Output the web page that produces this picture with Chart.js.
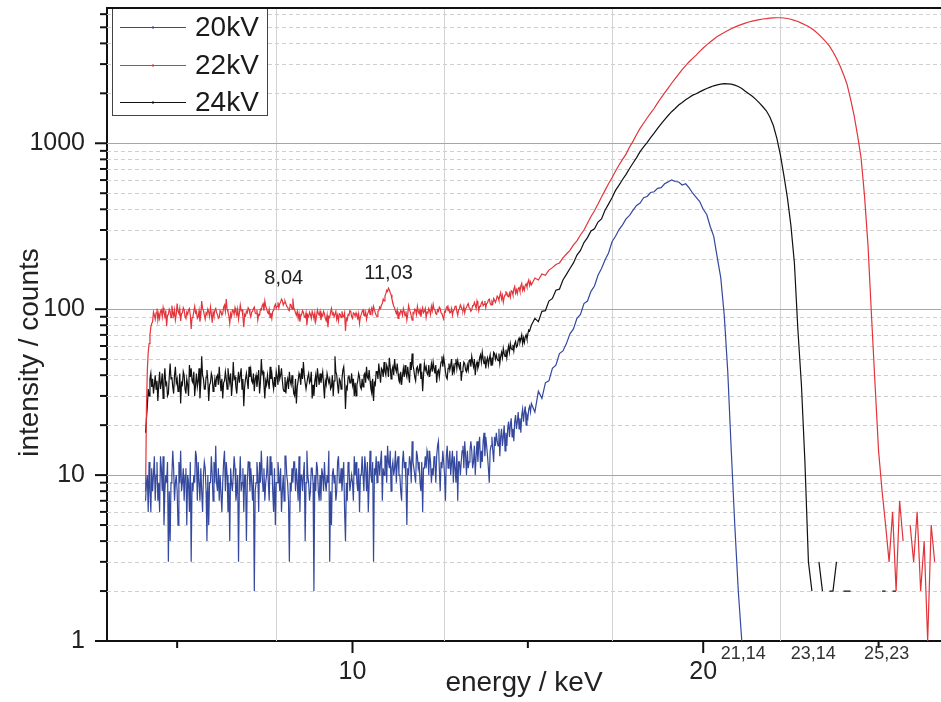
<!DOCTYPE html>
<html>
<head>
<meta charset="utf-8">
<script src="https://cdn.jsdelivr.net/npm/chart.js@4.4.1/dist/chart.umd.min.js"></script>
<style>
html,body{margin:0;padding:0;background:#fff;overflow:hidden}
#c{display:block}
</style>
</head>
<body>
<canvas id="c" width="941" height="702"></canvas>
<script>
// ---- channel grid (keV): fine channels 4.100-15.075 (0.025 keV), then coarse 15.1+ (0.1 keV) ----
const FINE_START = 4.1, FINE_STEP = 0.025, FINE_COUNT = 440;
const COARSE_START = 15.1, COARSE_STEP = 0.1;

const seriesLabels = ['20kV', '22kV', '24kV'];

// 20kV (blue) counts
const counts20kV = [
  7,9, 10,6, 12,8, 6,11, 8,10, 13,7, 10,12, 7,9, 6,13, 11,8, 13,5, 8,10, 9,12, 3,8, 4,9, 10,14, 11,7, 9,10, 8,5, 12,9,            // 4.1-
  14,8, 9,11, 7,10, 11,5, 10,9, 6,12, 3,9, 8,10, 9,14, 13,7, 12,9, 7,11, 8,6, 10,12, 11,8, 4,10, 5,9, 9,13, 10,7, 12,9,           // 5.1-
  15,9, 8,11, 7,10, 10,6, 9,12, 14,8, 12,10, 6,9, 4,11, 9,8, 10,13, 11,7, 8,10, 3,9, 13,8, 9,11, 6,10, 10,4, 9,12, 12,8,          // 6.1-
  11,9, 7,10, 2,8, 9,12, 10,6, 12,9, 14,10, 8,11, 7,9, 10,13, 9,7, 13,10, 12,8, 6,11, 5,9, 9,12, 10,8, 11,6, 8,10, 7,13,          // 7.1-
  13,10, 9,7, 3,9, 8,11, 9,12, 12,8, 11,9, 7,13, 6,10, 10,8, 10,12, 4,9, 14,10, 9,7, 8,11, 11,9, 2,10, 8,12, 11,8, 7,10,          // 8.1-
  7,11, 10,8, 12,9, 8,10, 9,14, 3,8, 5,10, 11,9, 10,7, 8,12, 13,9, 9,11, 8,10, 12,6, 4,9, 7,12, 11,8, 9,10, 9,7, 13,10,           // 9.1-
  12,9, 8,11, 6,10, 10,13, 10,8, 13,11, 8,12, 6,9, 14,10, 9,12, 3,11, 10,13, 9,12, 12,10, 12,14, 7,11, 10,13, 13,9, 15,12, 11,14, // 10.1-
  8,11, 12,10, 11,14, 9,12, 13,10, 10,8, 7,12, 14,11, 12,9, 5,11, 10,13, 12,9, 16,12, 11,10, 9,14, 13,11, 12,9, 8,12, 6,11, 11,13, // 11.1-
  11,14, 13,10, 14,12, 9,11, 10,13, 12,9, 13,15, 16,11, 8,12, 11,14, 12,10, 7,13, 15,11, 12,14, 10,12, 14,9, 13,11, 9,14, 7,12, 12,10, // 12.1-
  12,14, 15,11, 16,13, 10,14, 11,12, 14,16, 14,11, 12,15, 10,13, 16,12, 15,17, 11,14, 12,16, 18,13, 17,15, 13,11, 9,14, 15,17, 14,12, 17,15, // 13.1-
  18,16, 15,19, 13,17, 19,15, 17,20, 14,18, 15,19, 21,17, 20,22, 17,19, 16,21, 23,19, 21,24, 19,22, 18,23, 25,21, 24,26, 20,23, 22,25, 26,24, // 14.1-15.075
  27,24,32,29,36,37,44,46,54,56,           // 15.1-16.0
  62,71,76,88,93,108,112,128,138,160,      // 16.1-17.0
  176,198,218,255,275,302,322,350,368,395, // 17.1-18.0
  422,436,470,478,505,510,535,540,570,585, // 18.1-19.0
  602,588,584,560,570,538,500,472,445,400, // 19.1-20.0
  372,315,275,205,155,92,42,14,5,2,        // 20.1-21.0
  1,0                                      // 21.1-21.2
];

// 22kV (red) counts
const counts22kV = [
  8,25, 43,55, 62,70, 78,82, 84,96, 92,87, 95,101, 86,94, 88,97, 99,90, 102,95, 90,98, 79,92, 93,100, 97,89, 105,96, 91,99, 86,93, 108,97, 94,101,      // 4.1-
  85,94, 95,102, 99,90, 88,96, 93,99, 101,92, 76,89, 90,97, 104,95, 97,88, 90,98, 84,93, 112,101, 98,92, 87,95, 93,100, 96,90, 103,94, 83,96, 91,99,     // 5.1-
  101,95, 93,88, 89,98, 97,92, 94,103, 106,97, 115,100, 96,91, 82,94, 90,99, 98,93, 102,96, 92,100, 87,95, 106,98, 99,90, 78,93, 91,97, 95,102, 100,94, // 6.1-
  90,96, 97,101, 103,95, 94,99, 86,93, 92,100, 99,105, 108,98, 112,104, 101,96, 94,100, 89,95, 88,97, 98,104, 107,101, 104,110, 102,108, 110,115, 113,106, 109,112, // 7.1-
  108,104, 103,99, 98,107, 106,100, 116,102, 99,95, 92,97, 88,94, 84,91, 93,98, 96,90, 89,95, 80,92, 90,96, 93,88, 97,93, 88,95, 84,91, 99,94, 92,97,   // 8.1-
  86,93, 91,97, 94,88, 85,92, 78,90, 89,96, 101,93, 95,90, 90,97, 87,92, 85,94, 93,89, 97,91, 90,95, 74,88, 86,93, 92,98, 97,90, 88,95, 94,91,          // 9.1-
  95,91, 88,94, 82,90, 93,97, 99,92, 91,96, 87,93, 96,100, 93,98, 102,95, 104,99, 95,92, 90,97, 98,103, 101,106, 108,115, 112,120, 124,130, 128,134, 131,126, // 10.1-
  122,115, 110,104, 102,97, 94,99, 88,95, 93,98, 97,92, 101,96, 91,97, 86,93, 105,99, 96,91, 86,95, 94,100, 99,93, 104,97, 94,99, 90,96, 102,95, 97,101, // 11.1-
  89,96, 95,101, 98,93, 104,98, 107,100, 99,94, 93,99, 97,103, 101,95, 94,90, 87,97, 96,102, 104,98, 100,95, 96,101, 92,98, 99,104, 105,97, 92,99, 101,106, // 12.1-
  103,99, 98,104, 95,101, 102,106, 108,102, 101,97, 99,105, 105,110, 106,101, 112,107, 98,104, 104,109, 111,105, 107,112, 102,108, 109,114, 115,109, 106,111, 108,116, 113,110, // 13.1-
  114,120, 118,113, 121,126, 115,121, 110,118, 122,127, 126,120, 119,125, 118,129, 128,122, 132,137, 125,131, 124,133, 135,128, 138,143, 130,136, 130,139, 142,136, 145,150, 139,146, // 14.1-15.075
  140,154,150,163,160,172,178,186,190,204,           // 15.1-16.0
  215,226,244,258,280,300,330,362,392,430,           // 16.1-17.0
  475,520,570,620,680,740,800,860,950,1030,          // 17.1-18.0
  1130,1230,1320,1420,1520,1620,1750,1880,2010,2150, // 18.1-19.0
  2300,2450,2610,2780,2940,3100,3250,3400,3580,3750, // 19.1-20.0
  3920,4080,4240,4400,4530,4650,4780,4900,5010,5120, // 20.1-21.0
  5210,5300,5380,5450,5510,5560,5610,5640,5680,5700, // 21.1-22.0
  5710,5710,5690,5650,5590,5500,5420,5300,5180,5050, // 22.1-23.0
  4900,4720,4520,4300,4080,3850,3560,3250,2930,2600, // 23.1-24.0
  2270,1850,1480,1120,820,480,240,90,35,14,          // 24.1-25.0
  8,5,3,6,2,7,4,0,5,3,                               // 25.1-26.0
  6,2,4,1,5,3,0                                      // 26.1-26.7
];

// 24kV (black) counts
const counts24kV = [
  18,22, 26,33, 30,38, 41,34, 38,31, 35,40, 33,37, 28,35, 42,33, 36,41, 29,37, 44,35, 36,30, 31,39, 47,38, 39,34, 31,40, 45,36, 38,32, 33,41, // 4.1-
  27,36, 35,42, 40,33, 31,38, 35,30, 46,39, 44,37, 36,42, 30,35, 41,34, 37,44, 29,36, 52,40, 38,33, 33,39, 43,37, 28,35, 36,41, 39,32, 34,38, // 5.1-
  34,39, 40,35, 45,37, 32,38, 29,36, 37,42, 38,33, 44,39, 36,41, 30,35, 48,38, 39,34, 31,37, 42,36, 40,44, 33,38, 26,34, 38,41, 37,33, 45,39, // 6.1-
  43,37, 36,41, 32,38, 40,34, 38,43, 31,36, 50,41, 42,35, 29,37, 35,40, 36,33, 45,38, 41,36, 33,39, 34,42, 39,35, 46,38, 40,44, 37,33, 32,39, // 7.1-
  31,36, 38,33, 42,37, 35,40, 35,31, 30,38, 27,34, 37,41, 39,35, 44,38, 48,40, 36,33, 33,39, 41,36, 37,42, 29,35, 30,37, 40,34, 44,39, 35,41, // 8.1-
  36,39, 42,35, 29,37, 35,41, 41,36, 38,33, 34,40, 30,37, 52,42, 40,35, 31,38, 37,33, 38,43, 45,37, 25,34, 33,39, 40,36, 36,41, 35,38, 30,36, // 9.1-
  30,35, 37,41, 39,34, 33,38, 34,40, 41,36, 45,39, 38,43, 37,33, 31,38, 28,36, 35,42, 42,38, 47,41, 36,44, 43,39, 48,42, 40,46, 44,39, 51,45, // 10.1-
  38,43, 45,40, 50,44, 42,47, 41,37, 36,42, 35,40, 44,39, 46,41, 39,45, 40,36, 48,43, 54,46, 43,39, 37,44, 45,41, 43,47, 38,42, 32,40, 47,43, // 11.1-
  45,41, 40,46, 39,43, 47,42, 48,44, 41,46, 36,42, 43,39, 44,48, 52,45, 51,47, 42,39, 38,44, 47,43, 46,50, 40,45, 42,47, 50,44, 49,46, 44,48, // 12.1-
  37,42, 44,48, 47,43, 42,46, 43,49, 50,45, 52,48, 45,50, 40,46, 48,44, 46,51, 53,48, 55,50, 47,52, 44,49, 51,46, 50,53, 46,51, 48,55, 54,50, // 13.1-
  53,50, 49,54, 47,52, 55,51, 58,54, 52,57, 51,56, 60,55, 62,58, 57,61, 56,62, 64,59, 60,65, 67,63, 66,70, 62,67, 63,68, 70,66, 71,75, 74,77, // 14.1-15.075
  80,88,84,97,98,112,116,130,132,150,                // 15.1-16.0
  162,176,190,212,226,252,270,296,305,335,           // 16.1-17.0
  350,395,430,470,520,560,605,650,705,760,           // 17.1-18.0
  820,890,950,1010,1080,1150,1230,1310,1390,1470,    // 18.1-19.0
  1550,1620,1700,1760,1830,1890,1950,1990,2040,2090, // 19.1-20.0
  2140,2180,2220,2250,2270,2290,2280,2270,2240,2200, // 20.1-21.0
  2140,2060,1990,1920,1840,1750,1660,1570,1440,1280, // 21.1-22.0
  1070,850,640,470,320,190,75,35,12,3,               // 22.1-23.0
  2,0,3,2,0,2,2,3,0,2,                               // 23.1-24.0
  2,2,0,2,0,0,0,0,0,0,                               // 24.1-25.0
  2,2,0,2,2,0,2,0,0,0,                               // 25.1-26.0
  0,0,0,0,0,0,0                                      // 26.1-26.7
];

const seriesColors = ['#34489e', '#e2343a', '#111111'];

// axes
const X_MIN = 3, X_MAX = 26.78;
const Y_MIN = 1, Y_MAX = 6536;
const xTickValues = [5, 10, 15, 20, 25];
const xTickLabels = ['', '10', '', '20', ''];
const xGridValues = [7.83, 12.6, 17.41, 22.2];
const yDecades = [1, 10, 100, 1000];
const yMinor = [2,3,4,5,6,7,8,9,20,30,40,50,60,70,80,90,200,300,400,500,600,700,800,900,2000,3000,4000,5000,6000];

// annotations
const peakLabels = [
  { text: '8,04', x: 8.04, y: 154 },
  { text: '11,03', x: 11.03, y: 163 }
];
const cutoffLabels = [
  { text: '21,14', x: 21.14 },
  { text: '23,14', x: 23.14 },
  { text: '25,23', x: 25.23 }
];

const FONT = '"Liberation Sans", Arial, Helvetica, sans-serif';

const allSeries = [counts20kV, counts22kV, counts24kV];
const nChannels = Math.max(...allSeries.map(s => s.length));
const energy = Array.from({ length: nChannels }, (_, i) =>
  i < FINE_COUNT
    ? Math.round((FINE_START + i * FINE_STEP) * 1000) / 1000
    : Math.round((COARSE_START + (i - FINE_COUNT) * COARSE_STEP) * 1000) / 1000);

const datasets = allSeries.map((vals, k) => ({
  label: seriesLabels[k],
  data: vals.map((v, i) => ({ x: energy[i], y: v })),
  borderColor: seriesColors[k],
  backgroundColor: seriesColors[k],
  borderWidth: 1.2,
  pointRadius: 0,
  tension: 0,
  fill: false
}));

const decor = {
  id: 'decor',
  beforeDatasetsDraw(chart) {
    const { ctx, chartArea: a, scales: { x, y } } = chart;
    ctx.save();
    ctx.beginPath();
    ctx.rect(a.left, a.top, a.right - a.left, a.bottom - a.top);
    ctx.clip();
    ctx.lineWidth = 1;
    ctx.setLineDash([4, 3]);
    ctx.strokeStyle = '#cfcfcf';
    for (const v of yMinor) {
      const p = Math.round(y.getPixelForValue(v)) + 0.5;
      ctx.beginPath(); ctx.moveTo(a.left, p); ctx.lineTo(a.right, p); ctx.stroke();
    }
    ctx.setLineDash([]);
    ctx.strokeStyle = '#d3d3d3';
    for (const v of xGridValues) {
      const p = Math.round(x.getPixelForValue(v)) + 0.5;
      ctx.beginPath(); ctx.moveTo(p, a.top); ctx.lineTo(p, a.bottom); ctx.stroke();
    }
    ctx.strokeStyle = '#a6a6a6';
    for (const v of yDecades) {
      if (v <= Y_MIN) continue;
      const p = Math.round(y.getPixelForValue(v)) + 0.5;
      ctx.beginPath(); ctx.moveTo(a.left, p); ctx.lineTo(a.right, p); ctx.stroke();
    }
    ctx.restore();
  },
  afterDraw(chart) {
    const { ctx, chartArea: a, scales: { x, y } } = chart;
    ctx.save();
    // tick marks
    ctx.strokeStyle = '#111';
    ctx.lineWidth = 2;
    for (const v of yDecades) {
      const p = y.getPixelForValue(v);
      ctx.beginPath(); ctx.moveTo(a.left - 12, p); ctx.lineTo(a.left, p); ctx.stroke();
    }
    for (const v of yMinor) {
      const p = y.getPixelForValue(v);
      ctx.beginPath(); ctx.moveTo(a.left - 7, p); ctx.lineTo(a.left, p); ctx.stroke();
    }
    xTickValues.forEach((v, i) => {
      const p = x.getPixelForValue(v);
      const len = xTickLabels[i] ? 12 : 7;
      ctx.beginPath(); ctx.moveTo(p, a.bottom); ctx.lineTo(p, a.bottom + len); ctx.stroke();
    });

    // peak annotations
    ctx.fillStyle = '#222';
    ctx.textAlign = 'center';
    ctx.textBaseline = 'middle';
    ctx.font = '20px ' + FONT;
    for (const l of peakLabels) {
      ctx.fillText(l.text, x.getPixelForValue(l.x), y.getPixelForValue(l.y));
    }
    // cutoff annotations under the axis
    ctx.font = '18px ' + FONT;
    ctx.fillStyle = '#333';
    for (const l of cutoffLabels) {
      ctx.fillText(l.text, x.getPixelForValue(l.x), a.bottom + 13);
    }

    // legend
    const lx = a.left + 5, ly = a.top, lw = 155, lh = 107;
    ctx.fillStyle = '#fff';
    ctx.fillRect(lx, ly, lw, lh);
    ctx.lineWidth = 1;
    ctx.strokeStyle = '#444';
    ctx.strokeRect(lx + 0.5, ly + 0.5, lw, lh);
    ctx.font = '28px ' + FONT;
    ctx.textAlign = 'left';
    const rowsY = [19, 57, 94];
    chart.data.datasets.forEach((ds, k) => {
      const yy = Math.round(a.top + rowsY[k]) + 0.5;
      ctx.strokeStyle = ds.borderColor;
      ctx.lineWidth = 1;
      ctx.beginPath(); ctx.moveTo(a.left + 13, yy); ctx.lineTo(a.left + 79, yy); ctx.stroke();
      ctx.fillStyle = ds.borderColor;
      ctx.fillRect(a.left + 45, yy - 1, 2, 2);
      ctx.fillStyle = '#1a1a1a';
      ctx.fillText(ds.label, a.left + 88, a.top + rowsY[k] + 1);
    });
    // top frame line
    ctx.strokeStyle = '#111';
    ctx.lineWidth = 2;
    ctx.beginPath(); ctx.moveTo(a.left - 1, a.top); ctx.lineTo(a.right, a.top); ctx.stroke();

    // y axis title
    ctx.save();
    ctx.translate(30, (a.top + a.bottom) / 2 + 28);
    ctx.rotate(-Math.PI / 2);
    ctx.font = '28px ' + FONT;
    ctx.fillStyle = '#222';
    ctx.textAlign = 'center';
    ctx.textBaseline = 'middle';
    ctx.fillText('intensity / counts', 0, 0);
    ctx.restore();

    ctx.restore();
  }
};

new Chart(document.getElementById('c'), {
  type: 'line',
  data: { datasets },
  options: {
    responsive: false,
    animation: false,
    events: [],
    layout: { padding: { top: 8, right: 0, left: 0, bottom: 0 } },
    plugins: { legend: { display: false }, tooltip: { enabled: false } },
    scales: {
      x: {
        type: 'linear',
        position: 'bottom',
        min: X_MIN,
        max: X_MAX,
        afterBuildTicks: s => { s.ticks = xTickValues.map(v => ({ value: v })); },
        afterFit: s => { s.height = 61; s.paddingLeft = 0; s.paddingRight = 0; },
        grid: { display: true, color: 'transparent', drawTicks: false },
        border: { display: true, color: '#111', width: 2 },
        ticks: {
          autoSkip: false,
          maxRotation: 0,
          padding: 16,
          color: '#222',
          font: { size: 25, family: FONT },
          callback: (v, i) => xTickLabels[i]
        },
        title: {
          display: true,
          text: 'energy / keV',
          color: '#222',
          font: { size: 28, family: FONT },
          padding: { top: 0, bottom: 2 }
        }
      },
      y: {
        type: 'logarithmic',
        position: 'left',
        min: Y_MIN,
        max: Y_MAX,
        afterBuildTicks: s => { s.ticks = yDecades.map(v => ({ value: v })); },
        afterFit: s => { s.width = 107; s.paddingTop = 0; s.paddingBottom = 0; },
        grid: { display: true, color: 'transparent', drawTicks: false },
        border: { display: true, color: '#111', width: 2 },
        ticks: {
          autoSkip: false,
          padding: 22,
          color: '#222',
          font: { size: 25, family: FONT },
          callback: v => (yDecades.includes(v) ? String(v) : '')
        }
      }
    }
  },
  plugins: [decor]
});
</script>
</body>
</html>
